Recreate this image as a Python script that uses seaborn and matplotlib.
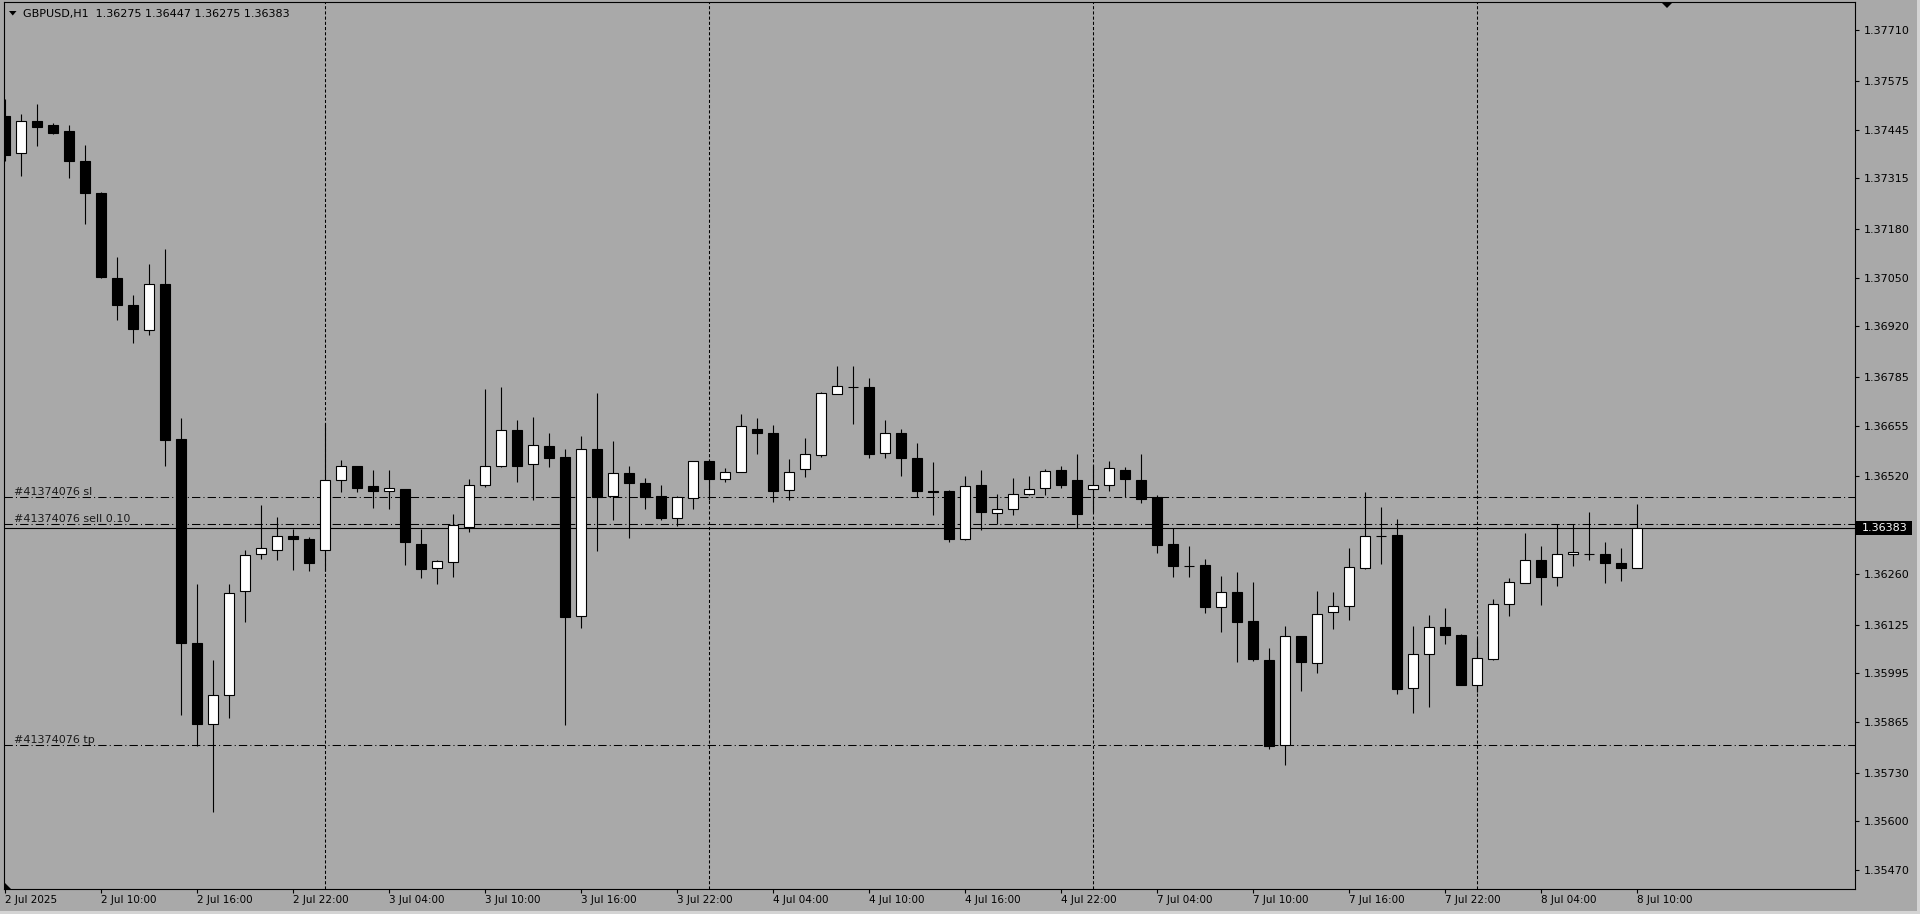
"""
GBPUSD H1 candlestick chart, MT4-style (grey background, black/white candles,
order lines sl / sell / tp, day separators).

Output: out.png (1920x914)
"""

import numpy as np
import pandas as pd
import matplotlib
matplotlib.use("Agg")
import matplotlib.pyplot as plt
import matplotlib.transforms as mtransforms
from matplotlib.patches import Polygon, Rectangle
import seaborn as sns

# ==========================================
# Data
# ==========================================
SYMBOL = "GBPUSD,H1"

OPEN = [1.37482, 1.37382, 1.37468, 1.37457, 1.37441, 1.37361, 1.37276, 1.37049, 1.36977, 1.36910,
        1.37033, 1.36619, 1.36075, 1.35861, 1.35937, 1.36214, 1.36313, 1.36323, 1.36361, 1.36353,
        1.36323, 1.36510, 1.36547, 1.36494, 1.36480, 1.36487, 1.36340, 1.36277, 1.36291, 1.36385,
        1.36497, 1.36547, 1.36643, 1.36553, 1.36601, 1.36572, 1.36147, 1.36593, 1.36467, 1.36529,
        1.36502, 1.36467, 1.36409, 1.36462, 1.36561, 1.36513, 1.36531, 1.36646, 1.36635, 1.36483,
        1.36539, 1.36577, 1.36739, 1.36758, 1.36758, 1.36582, 1.36635, 1.36569, 1.36480, 1.36481,
        1.36353, 1.36497, 1.36422, 1.36432, 1.36473, 1.36489, 1.36537, 1.36510, 1.36486, 1.36497,
        1.36537, 1.36510, 1.36464, 1.36339, 1.36282, 1.36283, 1.36171, 1.36211, 1.36134, 1.36030,
        1.35803, 1.36094, 1.36022, 1.36158, 1.36174, 1.36275, 1.36361, 1.36364, 1.35955, 1.36046,
        1.36119, 1.36097, 1.35965, 1.36034, 1.36181, 1.36237, 1.36297, 1.36253, 1.36313, 1.36313,
        1.36313, 1.36289, 1.36275]
HIGH = [1.37527, 1.37486, 1.37514, 1.37462, 1.37457, 1.37404, 1.37278, 1.37105, 1.37004, 1.37087,
        1.37127, 1.36676, 1.36233, 1.36031, 1.36233, 1.36324, 1.36444, 1.36412, 1.36381, 1.36359,
        1.36662, 1.36564, 1.36548, 1.36537, 1.36537, 1.36487, 1.36381, 1.36297, 1.36420, 1.36513,
        1.36753, 1.36759, 1.36671, 1.36679, 1.36636, 1.36593, 1.36628, 1.36743, 1.36615, 1.36548,
        1.36515, 1.36497, 1.36467, 1.36561, 1.36563, 1.36543, 1.36687, 1.36676, 1.36657, 1.36566,
        1.36623, 1.36745, 1.36815, 1.36815, 1.36782, 1.36671, 1.36647, 1.36609, 1.36558, 1.36483,
        1.36521, 1.36537, 1.36473, 1.36516, 1.36521, 1.36540, 1.36548, 1.36580, 1.36551, 1.36562,
        1.36545, 1.36580, 1.36470, 1.36382, 1.36335, 1.36300, 1.36255, 1.36266, 1.36238, 1.36062,
        1.36121, 1.36094, 1.36215, 1.36212, 1.36330, 1.36479, 1.36439, 1.36407, 1.36121, 1.36151,
        1.36170, 1.36100, 1.36089, 1.36193, 1.36249, 1.36369, 1.36335, 1.36393, 1.36393, 1.36425,
        1.36345, 1.36330, 1.36447]
LOW = [1.37360, 1.37320, 1.37400, 1.37432, 1.37317, 1.37192, 1.37049, 1.36937, 1.36877, 1.36896,
       1.36549, 1.35884, 1.35800, 1.35626, 1.35877, 1.36133, 1.36301, 1.36297, 1.36271, 1.36268,
       1.36268, 1.36479, 1.36479, 1.36437, 1.36432, 1.36284, 1.36248, 1.36234, 1.36253, 1.36372,
       1.36492, 1.36545, 1.36505, 1.36457, 1.36544, 1.35856, 1.36117, 1.36322, 1.36405, 1.36357,
       1.36432, 1.36405, 1.36389, 1.36434, 1.36457, 1.36506, 1.36531, 1.36581, 1.36451, 1.36456,
       1.36518, 1.36571, 1.36739, 1.36661, 1.36568, 1.36568, 1.36520, 1.36465, 1.36416, 1.36346,
       1.36350, 1.36376, 1.36393, 1.36418, 1.36470, 1.36471, 1.36488, 1.36382, 1.36426, 1.36482,
       1.36465, 1.36448, 1.36317, 1.36253, 1.36253, 1.36157, 1.36106, 1.36026, 1.36029, 1.35793,
       1.35751, 1.35949, 1.35997, 1.36113, 1.36136, 1.36272, 1.36287, 1.35941, 1.35890, 1.35906,
       1.36072, 1.35965, 1.35946, 1.36031, 1.36149, 1.36237, 1.36176, 1.36228, 1.36282, 1.36296,
       1.36237, 1.36240, 1.36275]
CLOSE = [1.37378, 1.37467, 1.37453, 1.37437, 1.37362, 1.37275, 1.37051, 1.36976, 1.36912, 1.37033,
         1.36618, 1.36077, 1.35861, 1.35937, 1.36209, 1.36310, 1.36329, 1.36361, 1.36352, 1.36290,
         1.36510, 1.36547, 1.36490, 1.36480, 1.36489, 1.36344, 1.36274, 1.36294, 1.36390, 1.36497,
         1.36548, 1.36643, 1.36549, 1.36603, 1.36570, 1.36146, 1.36593, 1.36464, 1.36529, 1.36502,
         1.36466, 1.36410, 1.36465, 1.36561, 1.36512, 1.36531, 1.36654, 1.36635, 1.36482, 1.36531,
         1.36579, 1.36742, 1.36761, 1.36758, 1.36581, 1.36635, 1.36568, 1.36480, 1.36479, 1.36352,
         1.36494, 1.36426, 1.36433, 1.36473, 1.36486, 1.36534, 1.36498, 1.36421, 1.36496, 1.36542,
         1.36512, 1.36461, 1.36338, 1.36280, 1.36281, 1.36171, 1.36211, 1.36133, 1.36032, 1.35802,
         1.36094, 1.36024, 1.36153, 1.36174, 1.36278, 1.36361, 1.36362, 1.35954, 1.36046, 1.36118,
         1.36096, 1.35965, 1.36035, 1.36179, 1.36238, 1.36297, 1.36253, 1.36313, 1.36318, 1.36313,
         1.36288, 1.36275, 1.36383]

ORDER_ID = "#41374076"
SELL_PRICE = 1.36392
SL_PRICE = 1.36464
TP_PRICE = 1.35803
BID = 1.36383

Y_TICKS = [1.37710, 1.37575, 1.37445, 1.37315, 1.37180, 1.37050, 1.36920, 1.36785, 1.36655,
           1.36520, 1.36260, 1.36125, 1.35995, 1.35865, 1.35730, 1.35600, 1.35470]

# H1 bars, weekend skipped
bar_time = pd.date_range("2025-07-02 04:00", "2025-07-08 10:00", freq="h")
bar_time = bar_time[bar_time.dayofweek < 5]

df = pd.DataFrame({"time": bar_time, "open": OPEN, "high": HIGH,
                   "low": LOW, "close": CLOSE})

# ==========================================
# Style
# ==========================================
BG = "#a9a9a9"
W, H = 1920, 914

sns.set_style("ticks", rc={
    "axes.facecolor": BG,
    "figure.facecolor": BG,
    "axes.edgecolor": "black",
    "axes.linewidth": 0.8,
    "xtick.color": "black",
    "ytick.color": "black",
    "text.color": "black",
})
plt.rcParams["font.family"] = ["DejaVu Sans"]


def px(x, y):
    """pixel (from top-left) -> figure fraction"""
    return x / W, 1 - y / H


fig = plt.figure(figsize=(W / 100, H / 100), dpi=100)
ax = fig.add_axes([4 / W, 1 - 889 / H, 1851 / W, 887 / H])

x = np.arange(len(df))

# ---- candles ----
ax.vlines(x, df["low"], df["high"], color="black", linewidth=0.8, zorder=2)
up = df["close"] > df["open"]
body_bottom = np.minimum(df["open"], df["close"])
body_h = np.abs(df["close"] - df["open"])
ax.bar(x, body_h, bottom=body_bottom, width=0.62,
       color=np.where(up, "white", "black"), edgecolor="black",
       linewidth=0.8, zorder=3)

# ---- day separators ----
for i in np.where(df["time"].dt.hour == 0)[0]:
    ax.axvline(i, color="black", linewidth=0.75, linestyle=(0, (3, 2)), zorder=1)

# ---- order lines ----
blend = mtransforms.blended_transform_factory(ax.transAxes, ax.transData)
lab_tr = mtransforms.offset_copy(blend, fig=fig, y=2.5, units="dots")
for price, tag in [(SL_PRICE, "sl"), (SELL_PRICE, "sell 0.10"), (TP_PRICE, "tp")]:
    ax.axhline(price, color="black", linewidth=0.75,
               linestyle=(0, (8, 3, 1, 3)), zorder=1)
    ax.text(10 / 1851, price, f"{ORDER_ID} {tag}", transform=lab_tr,
            fontsize=8, va="baseline", ha="left", color="#1a1a1a")

# bid line
ax.axhline(BID, color="black", linewidth=0.8, zorder=1)

# ---- axes ----
ax.set_xlim(-0.08, 115.6)
ax.set_ylim(1.35420, 1.37785)

ax.yaxis.tick_right()
ax.set_yticks(Y_TICKS)
ax.set_yticklabels([f"{v:.5f}" for v in Y_TICKS])
ax.tick_params(axis="y", length=3, width=0.8, pad=3, labelsize=8, direction="out")

tick_idx = x[::6]
tick_lab = [f"{t.day} {t:%b} {t:%H:%M}" for t in df["time"].iloc[::6]]
tick_lab[0] = f"{df['time'].iloc[0].day} {df['time'].iloc[0]:%b %Y}"
ax.set_xticks(tick_idx)
ax.set_xticklabels(tick_lab, ha="left")
ax.tick_params(axis="x", length=3, width=0.8, pad=1.5, labelsize=7.5, direction="out")

for s in ax.spines.values():
    s.set_visible(True)
    s.set_color("black")
    s.set_linewidth(0.8)

# bid label on price scale
ax.add_patch(Rectangle((1.0008, BID - 0.000187), 56 / 1851, 0.000374,
                       transform=blend, facecolor="black", edgecolor="none",
                       clip_on=False, zorder=5))
ax.text(1.0008 + 28 / 1851, BID, f"{BID:.5f}", transform=blend, color="white",
        fontsize=8, ha="center", va="center", clip_on=False, zorder=6)

# ---- header ----
fig.text(*px(23, 13.5), f"{SYMBOL}  {OPEN[-1]:.5f} {HIGH[-1]:.5f} {LOW[-1]:.5f} {CLOSE[-1]:.5f}",
         fontsize=8, va="center", ha="left")
fig.add_artist(Polygon([px(9, 11), px(16.5, 11), px(12.75, 15.5)], closed=True,
                       transform=fig.transFigure, facecolor="black", edgecolor="none"))
# chart shift marker
fig.add_artist(Polygon([px(1662, 3), px(1672, 3), px(1667, 8)], closed=True,
                       transform=fig.transFigure, facecolor="black", edgecolor="none"))
# corner marker
fig.add_artist(Polygon([px(4.5, 883), px(4.5, 889), px(10.5, 889)], closed=True,
                       transform=fig.transFigure, facecolor="black", edgecolor="none"))

# window frame strips
fig.add_artist(Rectangle(px(0, 914), 1, 3 / H, transform=fig.transFigure,
                         facecolor="#d4d4d4", edgecolor="none"))
fig.add_artist(Rectangle(px(1917, 914), 3 / W, 1, transform=fig.transFigure,
                         facecolor="#d4d4d4", edgecolor="none"))

fig.savefig("out.png", dpi=100, facecolor=BG)
plt.close(fig)
print("[OK] saved out.png")
